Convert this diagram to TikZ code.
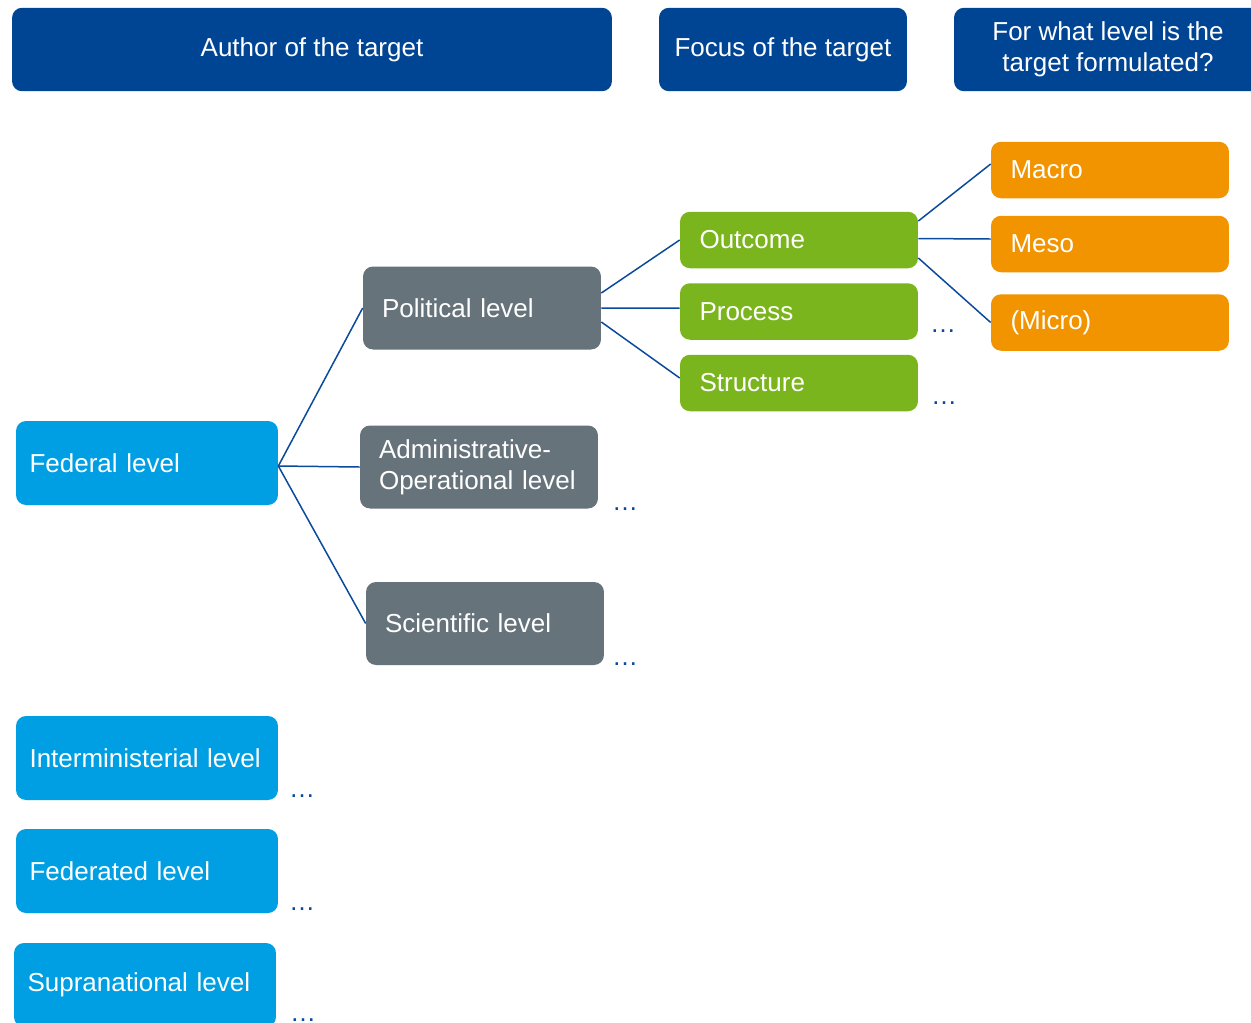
\documentclass[tikz,border=0pt]{standalone}
\usepackage{fontspec}
\setmainfont{Liberation Sans}
\definecolor{hdr}{HTML}{004494}
\definecolor{cyanb}{HTML}{009FE3}
\definecolor{grayb}{HTML}{66737B}
\definecolor{greenb}{HTML}{7AB51D}
\definecolor{orangeb}{HTML}{F29400}
\definecolor{linec}{HTML}{0A4A9C}
\begin{document}
\begin{tikzpicture}[x=0.02cm,y=-0.02cm,
  base/.style={rectangle,rounded corners=0.2cm,text=white,inner ysep=0pt,
    font=\fontsize{14.8}{17.6}\selectfont},
  hbox/.style={base,fill=hdr,align=center,minimum height=1.67cm},
  cbox/.style={base,fill=cyanb,align=left,text width=4.7cm,inner xsep=0.27cm,minimum height=1.68cm},
  gbox/.style={base,fill=grayb,align=left,text width=4.0cm,inner xsep=0.38cm,minimum height=1.66cm},
  grbox/.style={base,fill=greenb,align=left,text width=3.98cm,inner xsep=0.39cm,minimum height=1.13cm},
  obox/.style={base,fill=orangeb,align=left,text width=3.98cm,inner xsep=0.39cm,minimum height=1.13cm},
  conn/.style={draw=linec,line width=0.85pt},
  dots/.style={text=linec,anchor=base,inner sep=0pt,font=\fontsize{14.8}{17.6}\selectfont}]
\useasboundingbox (0,0) rectangle (1251,1022);
\fill[white] (0,0) rectangle (1251,1022);
% headers
\node[hbox,minimum width=12cm] (h1) at (312,49.5) {Author of the target};
\node[hbox,minimum width=4.96cm] (h2) at (783,49.5) {Focus of the target};
\node[hbox,minimum width=6.16cm] (h3) at (1108,49.5) {For what level is the\\target formulated?};
% author levels
\node[cbox] (fed) at (147,463) {Federal level};
\node[cbox] (inter) at (147,758) {Interministerial level};
\node[cbox] (fedd) at (147,871) {Federated level};
\node[cbox] (supra) at (145,985) {Supranational level};
\node[gbox] (pol) at (482,308) {Political level};
\node[gbox] (adm) at (479,467) {Administrative-\\Operational level};
\node[gbox] (sci) at (485,623.5) {Scientific level};
% focus
\node[grbox] (out) at (799,240) {Outcome};
\node[grbox] (proc) at (799,311.5) {Process};
\node[grbox] (struc) at (799,383) {Structure};
% level
\node[obox] (mac) at (1110,170) {Macro};
\node[obox] (mes) at (1110,244) {Meso};
\node[obox] (mic) at (1110,322.5) {(Micro)};
% connectors
\coordinate (fedE) at ([yshift=-0.06cm]fed.east);
\draw[conn] (fedE) -- (pol.west);
\draw[conn] (fedE) -- (adm.west);
\draw[conn] (fedE) -- (sci.west);
\draw[conn] ([yshift=0.3cm]pol.east) -- (out.west);
\draw[conn] (pol.east) -- ([yshift=0.07cm]proc.west);
\draw[conn] ([yshift=-0.28cm]pol.east) -- ([yshift=0.1cm]struc.west);
\draw[conn] ([yshift=0.38cm]out.east) -- ([yshift=0.12cm]mac.west);
\draw[conn] ([yshift=0.03cm]out.east) -- ([yshift=0.1cm]mes.west);
\draw[conn] ([yshift=-0.36cm]out.east) -- (mic.west);
% ellipses
\node[dots] (d1) at (943,332) {…};
\node[dots] (d2) at (944,404) {…};
\node[dots] (d3) at (625,510) {…};
\node[dots] (d4) at (625,665) {…};
\node[dots] (d5) at (302,797) {…};
\node[dots] (d6) at (302,910) {…};
\node[dots] (d7) at (303,1021) {…};
\end{tikzpicture}
\end{document}
